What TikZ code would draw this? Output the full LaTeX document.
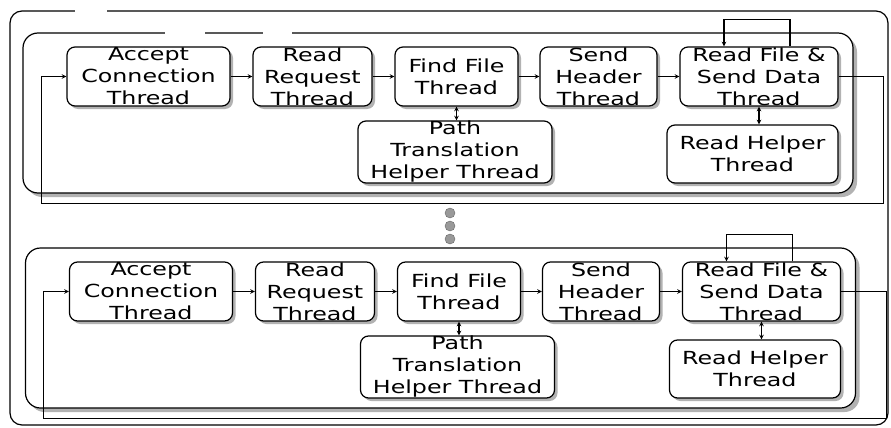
\documentclass[tikz,border=0pt]{standalone}
\usepackage{fontspec}
\setmainfont[FakeStretch=1.32]{DejaVu Sans}
\usetikzlibrary{calc,shadows}

\tikzset{
  thread/.style={draw, line width=1.2pt, rounded corners=8pt, fill=white, align=center,
    inner xsep=2pt, inner ysep=-4pt, font=\fontsize{18}{22}\selectfont,
    drop shadow={shadow xshift=3pt, shadow yshift=-3pt, fill=black!30, opacity=1}},
  stage/.style={draw, line width=1.2pt, rounded corners=15pt, fill=white,
    drop shadow={shadow xshift=4pt, shadow yshift=-4pt, fill=black!30, opacity=1}},
  link/.style={line width=1.1pt, -stealth},
}

% one server row: shift (#1,#2), names end in #3
\def\serverrow(#1,#2)#3{%
  \begin{scope}[shift={(#1,#2)}]
    \draw[stage] (23,33) rectangle (853,193);
    \node[thread, minimum width=163pt, minimum height=59pt] (acc#3) at (148.5,76.5) {Accept\\Connection\\Thread};
    \node[thread, minimum width=119pt, minimum height=59pt] (req#3) at (312.5,76.5) {Read\\Request\\Thread};
    \node[thread, minimum width=123pt, minimum height=59pt] (find#3) at (456.5,76.5) {Find File\\Thread};
    \node[thread, minimum width=117pt, minimum height=59pt] (send#3) at (598.5,76.5) {Send\\Header\\Thread};
    \node[thread, minimum width=158pt, minimum height=59pt] (rfile#3) at (759,76.5) {Read File \&\\Send Data\\Thread};
    \node[thread, minimum width=194pt, minimum height=62pt] (path#3) at (455,152) {Path\\Translation\\Helper Thread};
    \node[thread, minimum width=171pt, minimum height=58pt] (rhelp#3) at (752.5,154) {Read Helper\\Thread};
  \end{scope}
  \draw[link] (acc#3) -- (req#3);
  \draw[link] (req#3) -- (find#3);
  \draw[link] (find#3) -- (send#3);
  \draw[link] (send#3) -- (rfile#3);
  \draw[link, stealth-stealth] (find#3.south) -- (find#3.south |- path#3.north);
  \draw[link, stealth-stealth] (rfile#3.south) -- (rfile#3.south |- rhelp#3.north);
  \draw[link] ([xshift=31pt]rfile#3.north) -- ++(0,-27) -| ([xshift=-35pt]rfile#3.north);
  \draw[link] (rfile#3.east) -- ++(45,0) -- ++(0,127) -| ([xshift=-25pt]acc#3.west) -- (acc#3.west);
}

\begin{document}
\begin{tikzpicture}[x=1pt, y=-1pt]
  %%%%% START %%%%%

  \fill[white] (0,0) rectangle (891,428);
  \useasboundingbox (0,0) rectangle (891,428);

  \draw[line width=1.2pt, rounded corners=12pt] (10,11) rectangle (888,425);
  \fill[white] (75,8) rectangle (107,14);

  \serverrow(0,0){1}
  \fill[white] (165,30) rectangle (205,36);
  \fill[white] (263,30) rectangle (292,36);

  \draw[fill=black!40, draw=black!60] (450,213) circle (5);
  \draw[fill=black!40, draw=black!60] (450,226) circle (5);
  \draw[fill=black!40, draw=black!60] (450,239) circle (5);

  \serverrow(2.5,215){2}

  %%%%% END %%%%%
\end{tikzpicture}
\end{document}
